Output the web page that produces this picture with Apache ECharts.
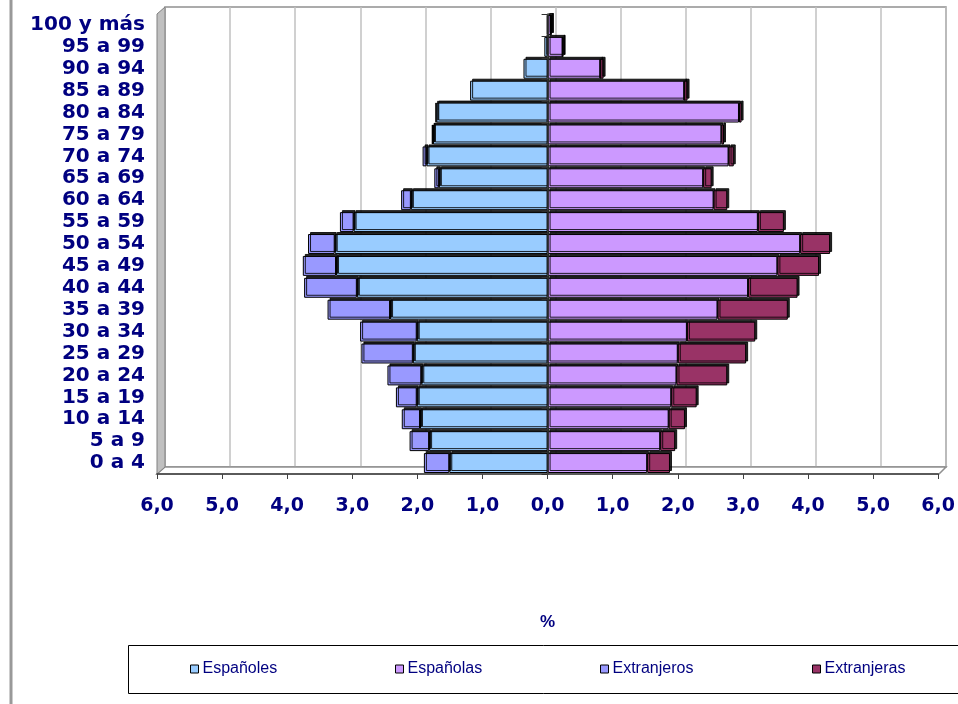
<!DOCTYPE html>
<html>
<head>
<meta charset="utf-8">
<script src="https://cdn.jsdelivr.net/npm/echarts@6/dist/echarts.min.js"></script>
<style>
html,body{margin:0;padding:0;background:#fff;}
#c{width:958px;height:704px;}
</style>
</head>
<body>
<div id="c"></div>
<script>
var categories = ['0 a 4','5 a 9','10 a 14','15 a 19','20 a 24','25 a 29','30 a 34','35 a 39','40 a 44','45 a 49','50 a 54','55 a 59','60 a 64','65 a 69','70 a 74','75 a 79','80 a 84','85 a 89','90 a 94','95 a 99','100 y más'];
var espanoles   = [1.51, 1.82, 1.96, 2.01, 1.94, 2.07, 2.01, 2.42, 2.93, 3.25, 3.27, 2.98, 2.10, 1.67, 1.86, 1.76, 1.71, 1.19, 0.37, 0.05, 0.01];
var extranjeros = [0.39, 0.30, 0.28, 0.32, 0.52, 0.79, 0.87, 0.96, 0.81, 0.51, 0.41, 0.21, 0.15, 0.07, 0.06, 0.02, 0.01, 0.00, 0.00, 0.00, 0.00];
var espanolas   = [1.53, 1.73, 1.86, 1.90, 1.98, 2.00, 2.14, 2.61, 3.08, 3.53, 3.88, 3.23, 2.55, 2.39, 2.78, 2.67, 2.94, 2.10, 0.81, 0.23, 0.05];
var extranjeras = [0.35, 0.23, 0.25, 0.39, 0.78, 1.05, 1.05, 1.08, 0.76, 0.64, 0.46, 0.40, 0.21, 0.13, 0.08, 0.04, 0.04, 0.05, 0.05, 0.01, 0.01];
var seriesNames = ['Españoles', 'Españolas', 'Extranjeros', 'Extranjeras'];

var navy = '#000080';
var chart = echarts.init(document.getElementById('c'), null, {renderer: 'canvas'});

function neg(a){ return a.map(function(v){ return -v; }); }
function fmt(v){ return Math.abs(v).toFixed(1).replace('.', ','); }

var barStyle = function(color){
  return {
    color: color,
    borderColor: '#000',
    borderWidth: 1,
    shadowColor: 'rgba(0,0,0,0.85)',
    shadowBlur: 0,
    shadowOffsetX: 2,
    shadowOffsetY: -2
  };
};

var legendLefts = [190, 395, 600, 812];
var legends = seriesNames.map(function(n, i){
  return {
    data: [n],
    left: legendLefts[i], top: 661,
    padding: 0,
    itemWidth: 8, itemHeight: 8, itemGap: 0,
    icon: 'rect',
    itemStyle: {borderColor: '#000', borderWidth: 1, shadowColor: 'transparent', shadowOffsetX: 0, shadowOffsetY: 0},
    textStyle: {fontFamily: 'Liberation Sans', fontSize: 16, color: navy, padding: [0, 0, 0, -1]}
  };
});

var option = {
  animation: false,
  backgroundColor: '#fff',
  graphic: [
    {type: 'line', shape: {x1: 11, y1: 0, x2: 11, y2: 704}, style: {stroke: '#999', lineWidth: 3}, z: 1},
    {type: 'polygon', shape: {points: [[157,474],[165,467],[946,467],[939,474]]}, style: {fill: '#fff', stroke: '#909090', lineWidth: 1.5}, z: 1},
    {type: 'polygon', shape: {points: [[157,14],[165,7],[165,467],[157,474]]}, style: {fill: '#C0C0C0', stroke: '#808080', lineWidth: 1}, z: 1},
    {type: 'rect', shape: {x: 128.5, y: 645.5, width: 850, height: 48}, style: {fill: 'none', stroke: '#000', lineWidth: 1}, z: 1}
  ],
  grid: [
    {left: 157, right: 19, top: 14, bottom: 230, containLabel: false},
    {left: 165, right: 12, top: 7, bottom: 237, show: true, borderColor: '#909090', borderWidth: 1.5, backgroundColor: 'transparent'}
  ],
  legend: legends,
  xAxis: [
    {
      type: 'value', gridIndex: 0, min: -6, max: 6, interval: 1, z: 5,
      axisLine: {show: true, lineStyle: {color: '#404040', width: 1.5}},
      axisTick: {show: true, length: 5, lineStyle: {color: '#404040'}},
      splitLine: {show: false},
      axisLabel: {formatter: fmt, margin: 23, color: navy, fontFamily: 'DejaVu Sans', fontWeight: 'bold', fontSize: 19},
      name: '%', nameLocation: 'middle', nameGap: 140,
      nameTextStyle: {color: navy, fontFamily: 'Liberation Sans', fontWeight: 'bold', fontSize: 17}
    },
    {
      type: 'value', gridIndex: 1, min: -6, max: 6, interval: 1,
      axisLine: {show: false}, axisTick: {show: false}, axisLabel: {show: false},
      splitLine: {show: true, lineStyle: {color: '#C0C0C0', width: 1.5}}
    }
  ],
  yAxis: [
    {
      type: 'category', gridIndex: 0, data: categories, z: 5,
      axisLine: {show: true, lineStyle: {color: '#303030', width: 1.5}},
      axisTick: {show: true, length: 6, interval: 0, lineStyle: {color: '#303030'}},
      axisLabel: {interval: 0, margin: 12, color: navy, fontFamily: 'DejaVu Sans', fontWeight: 'bold', fontSize: 20}
    },
    {
      type: 'value', gridIndex: 1, show: false, splitLine: {show: false}
    }
  ],
  series: [
    {name: seriesNames[0], type: 'bar', stack: 'p', barCategoryGap: '9%', data: neg(espanoles), itemStyle: barStyle('#99CCFF')},
    {name: seriesNames[1], type: 'bar', stack: 'p', barCategoryGap: '9%', data: espanolas, itemStyle: barStyle('#CC99FF')},
    {name: seriesNames[2], type: 'bar', stack: 'p', barCategoryGap: '9%', data: neg(extranjeros), itemStyle: barStyle('#9999FF')},
    {name: seriesNames[3], type: 'bar', stack: 'p', barCategoryGap: '9%', data: extranjeras, itemStyle: barStyle('#993366')}
  ]
};
chart.setOption(option);
</script>
</body>
</html>
